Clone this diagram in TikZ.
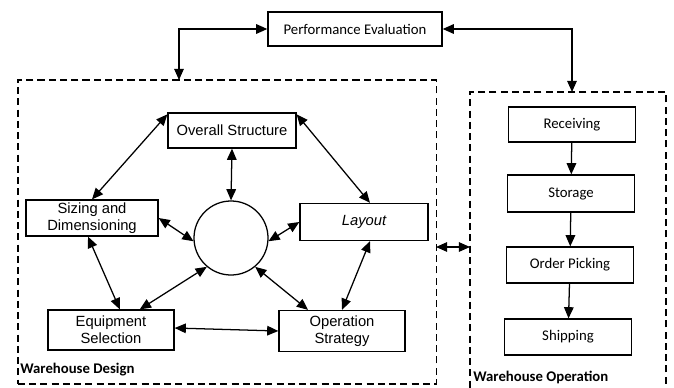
\documentclass[tikz,border=0pt]{standalone}
\usepackage{fontspec}
\setmainfont{Liberation Sans}
\newfontfamily\calibri{Carlito}
\usetikzlibrary{arrows.meta,positioning,calc}

\begin{document}
\begin{tikzpicture}[x=0.025cm, y=-0.025cm,
    box/.style={draw, line width=0.9pt, align=center, inner sep=1pt, font=\fontsize{10.5}{12}\selectfont, minimum width=3.2cm, minimum height=0.9cm},
    opbox/.style={box, font=\calibri\fontsize{10.5}{12}\selectfont, minimum width=3.17cm},
    hub/.style={draw, circle, line width=0.9pt, minimum size=1.85cm},
    group/.style={draw, line width=0.8pt, dash pattern=on 5pt off 3pt, inner sep=0pt},
    grplbl/.style={font=\calibri\bfseries\fontsize{10.5}{12}\selectfont, anchor=west, inner sep=0pt},
    arr/.style={-{Triangle[length=2.8mm, width=2.4mm]}, line width=0.9pt},
    dbl/.style={{Triangle[length=2.8mm, width=2.4mm]}-{Triangle[length=2.8mm, width=2.4mm]}, line width=0.9pt}
]
\useasboundingbox (0,0) rectangle (674,387);

\node[group, minimum width=10.45cm, minimum height=7.6cm] (design) at (227,232) {};
\node[group, minimum width=4.9cm, minimum height=7.45cm] (oper) at (568,241) {};
\node[grplbl] (dlbl) at (20,370) {Warehouse Design};
\node[grplbl] (olbl) at (473,377) {Warehouse Operation};

\node[opbox, minimum width=4.35cm, minimum height=0.85cm] (perf) at (355,29) {Performance Evaluation};

\node[box, minimum height=0.875cm] (overall) at (232,130.5) {Overall Structure};
\node[box, minimum width=3.3cm] (sizing) at (92,218) {Sizing and\\Dimensioning};
\node[box, minimum height=0.925cm] (layout) at (364,222) {\itshape Layout};
\node[box, minimum width=3.15cm, minimum height=1cm] (equip) at (111,330) {Equipment\\Selection};
\node[box, minimum width=3.15cm, minimum height=1.025cm] (strat) at (342,331) {Operation\\Strategy};
\node[hub] (core) at (231,238) {};

\node[opbox, minimum height=0.875cm] (recv) at (572,124.5) {Receiving};
\node[opbox, minimum height=0.925cm] (stor) at (571,193.5) {Storage};
\node[opbox] (pick) at (570,265) {Order Picking};
\node[opbox] (ship) at (568,337) {Shipping};

\coordinate (dtop) at (179,80);
\coordinate (otop) at (572,92);
\coordinate (dmid) at (436,247);
\coordinate (omid) at (470,247);

\draw[dbl] (perf.west) -| (dtop);
\draw[dbl] (perf.east) -| (otop);
\draw[dbl] (dmid) -- (omid);

\draw[dbl] ([yshift=-0.05cm]overall.north west) -- (sizing.north);
\draw[dbl] ([yshift=-0.05cm]overall.north east) -- ([xshift=0.15cm]layout.north);
\draw[dbl] (overall.south) -- (core.north);
\draw[dbl] (sizing.east) -- (core.185);
\draw[dbl] (layout.west) -- (core.355);
\draw[dbl] ([xshift=-0.1cm]sizing.south) -- ([xshift=0.22cm]equip.north);
\draw[dbl] (core.230) -- ([xshift=0.72cm]equip.north);
\draw[dbl] (core.310) -- ([xshift=-0.85cm]strat.north);
\draw[dbl] ([xshift=0.15cm]layout.south) -- (strat.north);
\draw[dbl] ([yshift=0.05cm]equip.east) -- (strat.west);

\draw[arr] (recv) -- (stor);
\draw[arr] (stor) -- (pick);
\draw[arr] (pick) -- (ship);
\end{tikzpicture}
\end{document}
